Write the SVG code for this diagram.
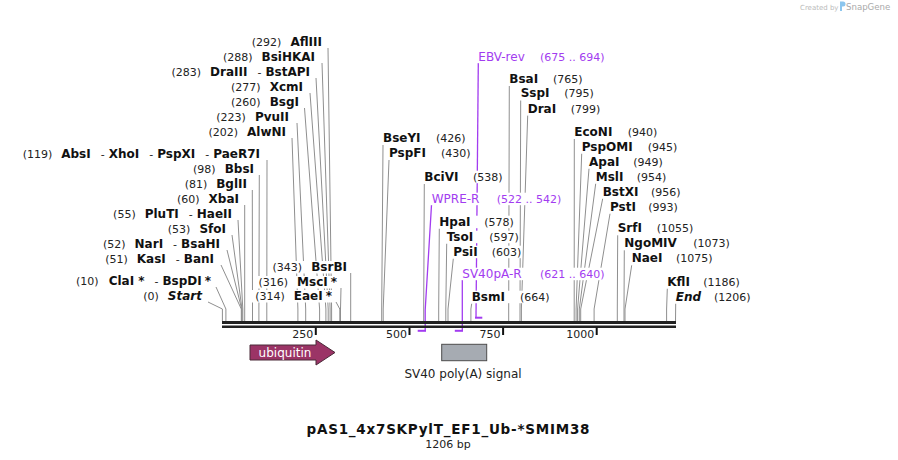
<svg xmlns="http://www.w3.org/2000/svg" width="898" height="460" viewBox="0 0 898 460">
<style>
text{font-family:"DejaVu Sans",Verdana,sans-serif}
.c{fill:none;stroke:#8f8f8f;stroke-width:1}
.p{fill:none;stroke:#a23cf0;stroke-width:1.3}
.pb{fill:none;stroke:#a23cf0;stroke-width:2}
.bg{fill:#fff}
.t{font-size:11px;fill:#222}
.b{font-size:12px;font-weight:bold;fill:#111}
.i{font-style:italic}
.pn{font-size:12px;fill:#a23cf0}
.pt{font-size:11px;fill:#a23cf0}
.tick{stroke:#111;stroke-width:2}
.bb{fill:#222}
</style>
<rect width="898" height="460" fill="#fff"/>
<g id="watermark">
<text x="800" y="9.5" font-size="7" fill="#bbb">Created by</text>
<path d="M840,1.5h3a2.5,2.5 0 0 1 0,5h-1v4.5h-2z" fill="#8cc6ee"/>
<text x="846" y="9.5" font-size="8.6" fill="#aaa">SnapGene</text>
</g>
<g id="connectors">
<polyline class="c" points="328,48 331.6,309 331.6,321"/>
<polyline class="c" points="322,63 330.1,309 330.1,321"/>
<polyline class="c" points="316,78 328.2,309 328.2,321"/>
<polyline class="c" points="310,93 325.9,309 325.9,321"/>
<polyline class="c" points="304.5,108 319.6,309 319.6,321"/>
<polyline class="c" points="297,123 305.7,309 305.7,321"/>
<polyline class="c" points="292,138 297.9,309 297.9,321"/>
<polyline class="c" points="267,160 266.8,309 266.8,321"/>
<polyline class="c" points="259.3,175 258.9,309 258.9,321"/>
<polyline class="c" points="252.3,190 252.5,309 252.5,321"/>
<polyline class="c" points="244.7,205 244.7,309 244.7,321"/>
<polyline class="c" points="238,220 242.8,309 242.8,321"/>
<polyline class="c" points="232,235 242,309 242,321"/>
<polyline class="c" points="227,250 241.7,309 241.7,321"/>
<polyline class="c" points="221,265 241.3,309 241.3,321"/>
<polyline class="c" points="216,287 225.9,309 225.9,321"/>
<polyline class="c" points="208,302 222.4,309 222.4,321"/>
<polyline class="c" points="350.7,273 350.7,321"/>
<polyline class="c" points="341,288 340.5,309 340.5,321"/>
<polyline class="c" points="336,302 339.8,309 339.8,321"/>
<polyline class="c" points="383,145 381.7,309 381.7,321"/>
<polyline class="c" points="389,160 383.2,309 383.2,321"/>
<polyline class="c" points="424.3,184 423.7,309 423.7,321"/>
<polyline class="c" points="509.3,86 508.7,309 508.7,321"/>
<polyline class="c" points="520.7,100.5 520,309 520,321"/>
<polyline class="c" points="527.7,115.5 521.4,309 521.4,321"/>
<polyline class="c" points="439.3,228.7 438.7,309 438.7,321"/>
<polyline class="c" points="446.7,243.7 445.8,309 445.8,321"/>
<polyline class="c" points="453.3,258.7 448,309 448,321"/>
<polyline class="c" points="471.7,303.7 470.9,309 470.9,321"/>
<polyline class="c" points="574.3,139 574.2,309 574.2,321"/>
<polyline class="c" points="581.7,153.7 576.1,309 576.1,321"/>
<polyline class="c" points="589,168.7 577.6,309 577.6,321"/>
<polyline class="c" points="595.7,183.7 579.3,309 579.3,321"/>
<polyline class="c" points="602.7,198.7 580.7,309 580.7,321"/>
<polyline class="c" points="610,213.7 594.1,309 594.1,321"/>
<polyline class="c" points="617.7,235.3 617.3,309 617.3,321"/>
<polyline class="c" points="624.3,250.3 624,309 624,321"/>
<polyline class="c" points="631.7,265.3 625,309 625,321"/>
<polyline class="c" points="667.3,288.7 666.6,309 666.6,321"/>
<polyline class="c" points="675.7,303.7 675.5,321"/>
<polyline class="p" points="478.3,63 476,317.7"/>
<line class="pb" x1="475" y1="317.7" x2="482.3" y2="317.7"/>
<polyline class="p" points="431.5,205 425.2,310 425.2,330.8"/>
<line class="pb" x1="417.7" y1="330.8" x2="426" y2="330.8"/>
<polyline class="p" points="462.3,280 462.3,330.8"/>
<line class="pb" x1="454.8" y1="330.8" x2="463" y2="330.8"/>
</g>
<g id="backbone">
<rect class="bb" x="222" y="321" width="454" height="3"/>
<rect class="bb" x="222" y="325.5" width="454" height="2.5"/>
<line class="tick" x1="315.8" y1="327.5" x2="315.8" y2="335"/>
<line class="tick" x1="409.5" y1="327.5" x2="409.5" y2="335"/>
<line class="tick" x1="503.1" y1="327.5" x2="503.1" y2="335"/>
<line class="tick" x1="596.7" y1="327.5" x2="596.7" y2="335"/>
<text class="t" x="313.3" y="337.5" text-anchor="end">250</text>
<text class="t" x="407" y="337.5" text-anchor="end">500</text>
<text class="t" x="500.6" y="337.5" text-anchor="end">750</text>
<text class="t" x="594.2" y="337.5" text-anchor="end">1000</text>
</g>
<g id="ubiquitin">
<path d="M250,345H316V340L335,352.5L316,365V360H250Z" fill="#9b3466" stroke="#4a2a38" stroke-width="1"/>
<text x="285" y="356.5" text-anchor="middle" font-size="12" fill="#fff">ubiquitin</text>
</g>
<g id="sv40polyA">
<rect x="441.7" y="344.3" width="45" height="16.4" fill="#a6abb2" stroke="#4d4d4d" stroke-width="1"/>
<text x="463" y="378" text-anchor="middle" font-size="12" fill="#222">SV40 poly(A) signal</text>
</g>
<g id="l-AflIII"><rect class="bg" x="251" y="36" width="73" height="12.5"/><text x="322" y="46" text-anchor="end"><tspan class="t">(292)</tspan><tspan class="b" dx="9">AflIII</tspan></text></g>
<g id="l-BsiHKAI"><rect class="bg" x="221" y="51" width="96" height="12.5"/><text x="315" y="61" text-anchor="end"><tspan class="t">(288)</tspan><tspan class="b" dx="9">BsiHKAI</tspan></text></g>
<g id="l-DraIII"><rect class="bg" x="162" y="66" width="150" height="12.5"/><text x="310" y="76" text-anchor="end"><tspan class="t">(283)</tspan><tspan class="b" dx="9">DraIII</tspan><tspan class="t" dx="10">-</tspan><tspan class="b" dx="4">BstAPI</tspan></text></g>
<g id="l-XcmI"><rect class="bg" x="229" y="81" width="76" height="12.5"/><text x="303" y="91" text-anchor="end"><tspan class="t">(277)</tspan><tspan class="b" dx="9">XcmI</tspan></text></g>
<g id="l-BsgI"><rect class="bg" x="229" y="96" width="72" height="12.5"/><text x="299" y="106" text-anchor="end"><tspan class="t">(260)</tspan><tspan class="b" dx="9">BsgI</tspan></text></g>
<g id="l-PvuII"><rect class="bg" x="212" y="111" width="79" height="12.5"/><text x="289" y="121" text-anchor="end"><tspan class="t">(223)</tspan><tspan class="b" dx="9">PvuII</tspan></text></g>
<g id="l-AlwNI"><rect class="bg" x="202" y="126" width="86" height="12.5"/><text x="286" y="136" text-anchor="end"><tspan class="t">(202)</tspan><tspan class="b" dx="9">AlwNI</tspan></text></g>
<g id="l-AbsI"><rect class="bg" x="6" y="148" width="256" height="12.5"/><text x="260" y="158" text-anchor="end"><tspan class="t">(119)</tspan><tspan class="b" dx="9">AbsI</tspan><tspan class="t" dx="10">-</tspan><tspan class="b" dx="4">XhoI</tspan><tspan class="t" dx="10">-</tspan><tspan class="b" dx="4">PspXI</tspan><tspan class="t" dx="10">-</tspan><tspan class="b" dx="4">PaeR7I</tspan></text></g>
<g id="l-BbsI"><rect class="bg" x="192" y="163" width="64" height="12.5"/><text x="254" y="173" text-anchor="end"><tspan class="t">(98)</tspan><tspan class="b" dx="9">BbsI</tspan></text></g>
<g id="l-BglII"><rect class="bg" x="181" y="178" width="68" height="12.5"/><text x="247" y="188" text-anchor="end"><tspan class="t">(81)</tspan><tspan class="b" dx="9">BglII</tspan></text></g>
<g id="l-XbaI"><rect class="bg" x="175" y="193" width="66" height="12.5"/><text x="239" y="203" text-anchor="end"><tspan class="t">(60)</tspan><tspan class="b" dx="9">XbaI</tspan></text></g>
<g id="l-PluTI"><rect class="bg" x="106" y="208" width="128" height="12.5"/><text x="232" y="218" text-anchor="end"><tspan class="t">(55)</tspan><tspan class="b" dx="9">PluTI</tspan><tspan class="t" dx="10">-</tspan><tspan class="b" dx="4">HaeII</tspan></text></g>
<g id="l-SfoI"><rect class="bg" x="165" y="223" width="63" height="12.5"/><text x="226" y="233" text-anchor="end"><tspan class="t">(53)</tspan><tspan class="b" dx="9">SfoI</tspan></text></g>
<g id="l-NarI"><rect class="bg" x="99" y="238" width="123" height="12.5"/><text x="220" y="248" text-anchor="end"><tspan class="t">(52)</tspan><tspan class="b" dx="9">NarI</tspan><tspan class="t" dx="10">-</tspan><tspan class="b" dx="4">BsaHI</tspan></text></g>
<g id="l-KasI"><rect class="bg" x="102" y="253" width="114" height="12.5"/><text x="214" y="263" text-anchor="end"><tspan class="t">(51)</tspan><tspan class="b" dx="9">KasI</tspan><tspan class="t" dx="10">-</tspan><tspan class="b" dx="4">BanI</tspan></text></g>
<g id="l-ClaI"><rect class="bg" x="73" y="275" width="140" height="12.5"/><text x="211" y="285" text-anchor="end"><tspan class="t">(10)</tspan><tspan class="b" dx="10">ClaI</tspan><tspan class="b" dx="4">*</tspan><tspan class="t" dx="10">-</tspan><tspan class="b" dx="4">BspDI</tspan><tspan class="b" dx="3">*</tspan></text></g>
<g id="l-Start"><rect class="bg" x="143" y="290" width="61" height="12.5"/><text x="202" y="300" text-anchor="end"><tspan class="t">(0)</tspan><tspan class="b i" dx="9">Start</tspan></text></g>
<g id="l-BsrBI"><rect class="bg" x="270" y="261" width="79" height="12.5"/><text x="347" y="271" text-anchor="end"><tspan class="t">(343)</tspan><tspan class="b" dx="9">BsrBI</tspan></text></g>
<g id="l-MscI"><rect class="bg" x="257" y="276" width="82" height="12.5"/><text x="337" y="286" text-anchor="end"><tspan class="t">(316)</tspan><tspan class="b" dx="9">MscI</tspan><tspan class="b" dx="3">*</tspan></text></g>
<g id="l-EaeI"><rect class="bg" x="251" y="290" width="83" height="12.5"/><text x="332" y="300" text-anchor="end"><tspan class="t">(314)</tspan><tspan class="b" dx="9">EaeI</tspan><tspan class="b" dx="3">*</tspan></text></g>
<g id="r-BseYI"><rect class="bg" x="382" y="132.3" width="84" height="12.5"/><text y="142.3"><tspan class="b" x="383">BseYI</tspan><tspan class="t" x="436">(426)</tspan></text></g>
<g id="r-PspFI"><rect class="bg" x="388" y="147.3" width="83" height="12.5"/><text y="157.3"><tspan class="b" x="389">PspFI</tspan><tspan class="t" x="441">(430)</tspan></text></g>
<g id="r-BciVI"><rect class="bg" x="423.3" y="170.7" width="79.3" height="12.5"/><text y="180.7"><tspan class="b" x="424.3">BciVI</tspan><tspan class="t" x="473">(538)</tspan></text></g>
<g id="r-BsaI"><rect class="bg" x="508.3" y="72.7" width="74.3" height="12.5"/><text y="82.7"><tspan class="b" x="509.3">BsaI</tspan><tspan class="t" x="553">(765)</tspan></text></g>
<g id="r-SspI"><rect class="bg" x="519.7" y="87.3" width="74.2" height="12.5"/><text y="97.3"><tspan class="b" x="520.7">SspI</tspan><tspan class="t" x="564.3">(795)</tspan></text></g>
<g id="r-DraI"><rect class="bg" x="526.7" y="102.7" width="73.6" height="12.5"/><text y="112.7"><tspan class="b" x="527.7">DraI</tspan><tspan class="t" x="570.7">(799)</tspan></text></g>
<g id="r-HpaI"><rect class="bg" x="438.3" y="215.7" width="75.6" height="12.5"/><text y="225.7"><tspan class="b" x="439.3">HpaI</tspan><tspan class="t" x="484.3">(578)</tspan></text></g>
<g id="r-TsoI"><rect class="bg" x="445.7" y="230.7" width="73.2" height="12.5"/><text y="240.7"><tspan class="b" x="446.7">TsoI</tspan><tspan class="t" x="489.3">(597)</tspan></text></g>
<g id="r-PsiI"><rect class="bg" x="452.3" y="245.7" width="69" height="12.5"/><text y="255.7"><tspan class="b" x="453.3">PsiI</tspan><tspan class="t" x="491.7">(603)</tspan></text></g>
<g id="r-BsmI"><rect class="bg" x="470.7" y="290.7" width="79" height="12.5"/><text y="300.7"><tspan class="b" x="471.7">BsmI</tspan><tspan class="t" x="520">(664)</tspan></text></g>
<g id="r-EcoNI"><rect class="bg" x="573.3" y="126" width="84" height="12.5"/><text y="136"><tspan class="b" x="574.3">EcoNI</tspan><tspan class="t" x="627.7">(940)</tspan></text></g>
<g id="r-PspOMI"><rect class="bg" x="580.7" y="140.7" width="96.6" height="12.5"/><text y="150.7"><tspan class="b" x="581.7">PspOMI</tspan><tspan class="t" x="647.7">(945)</tspan></text></g>
<g id="r-ApaI"><rect class="bg" x="588" y="155.7" width="75" height="12.5"/><text y="165.7"><tspan class="b" x="589">ApaI</tspan><tspan class="t" x="633.3">(949)</tspan></text></g>
<g id="r-MslI"><rect class="bg" x="594.7" y="170.7" width="71.6" height="12.5"/><text y="180.7"><tspan class="b" x="595.7">MslI</tspan><tspan class="t" x="636.7">(954)</tspan></text></g>
<g id="r-BstXI"><rect class="bg" x="601.7" y="185.7" width="79" height="12.5"/><text y="195.7"><tspan class="b" x="602.7">BstXI</tspan><tspan class="t" x="651">(956)</tspan></text></g>
<g id="r-PstI"><rect class="bg" x="609" y="200.7" width="69" height="12.5"/><text y="210.7"><tspan class="b" x="610">PstI</tspan><tspan class="t" x="648.3">(993)</tspan></text></g>
<g id="r-SrfI"><rect class="bg" x="616.7" y="222.3" width="76.6" height="12.5"/><text y="232.3"><tspan class="b" x="617.7">SrfI</tspan><tspan class="t" x="656.7">(1055)</tspan></text></g>
<g id="r-NgoMIV"><rect class="bg" x="623.3" y="237.3" width="106.6" height="12.5"/><text y="247.3"><tspan class="b" x="624.3">NgoMIV</tspan><tspan class="t" x="693.3">(1073)</tspan></text></g>
<g id="r-NaeI"><rect class="bg" x="630.7" y="252.3" width="82" height="12.5"/><text y="262.3"><tspan class="b" x="631.7">NaeI</tspan><tspan class="t" x="676">(1075)</tspan></text></g>
<g id="r-KflI"><rect class="bg" x="666.3" y="275.7" width="73.6" height="12.5"/><text y="285.7"><tspan class="b" x="667.3">KflI</tspan><tspan class="t" x="703.3">(1186)</tspan></text></g>
<g id="r-End"><rect class="bg" x="674.7" y="290.7" width="76" height="12.5"/><text y="300.7"><tspan class="b i" x="675.7">End</tspan><tspan class="t" x="714">(1206)</tspan></text></g>
<g id="p-EBV-rev"><rect class="bg" x="477.3" y="50.7" width="127" height="12.5"/><text y="60.7"><tspan class="pn" x="478.3">EBV-rev</tspan><tspan class="pt" x="540">(675 .. 694)</tspan></text></g>
<g id="p-WPRE-R"><rect class="bg" x="430.7" y="192.7" width="130.5" height="12.5"/><text y="202.7"><tspan class="pn" x="431.7">WPRE-R</tspan><tspan class="pt" x="496.7">(522 .. 542)</tspan></text></g>
<g id="p-SV40pA-R"><rect class="bg" x="461.3" y="267.7" width="143" height="12.5"/><text y="277.7"><tspan class="pn" x="462.3">SV40pA-R</tspan><tspan class="pt" x="540">(621 .. 640)</tspan></text></g>
<g id="title">
<text x="448" y="433.5" text-anchor="middle" font-size="13.5" font-weight="bold" fill="#111" textLength="283" lengthAdjust="spacing">pAS1_4x7SKPylT_EF1_Ub-*SMIM38</text>
<text x="448" y="447.5" text-anchor="middle" font-size="11" fill="#222">1206 bp</text>
</g>
</svg>
